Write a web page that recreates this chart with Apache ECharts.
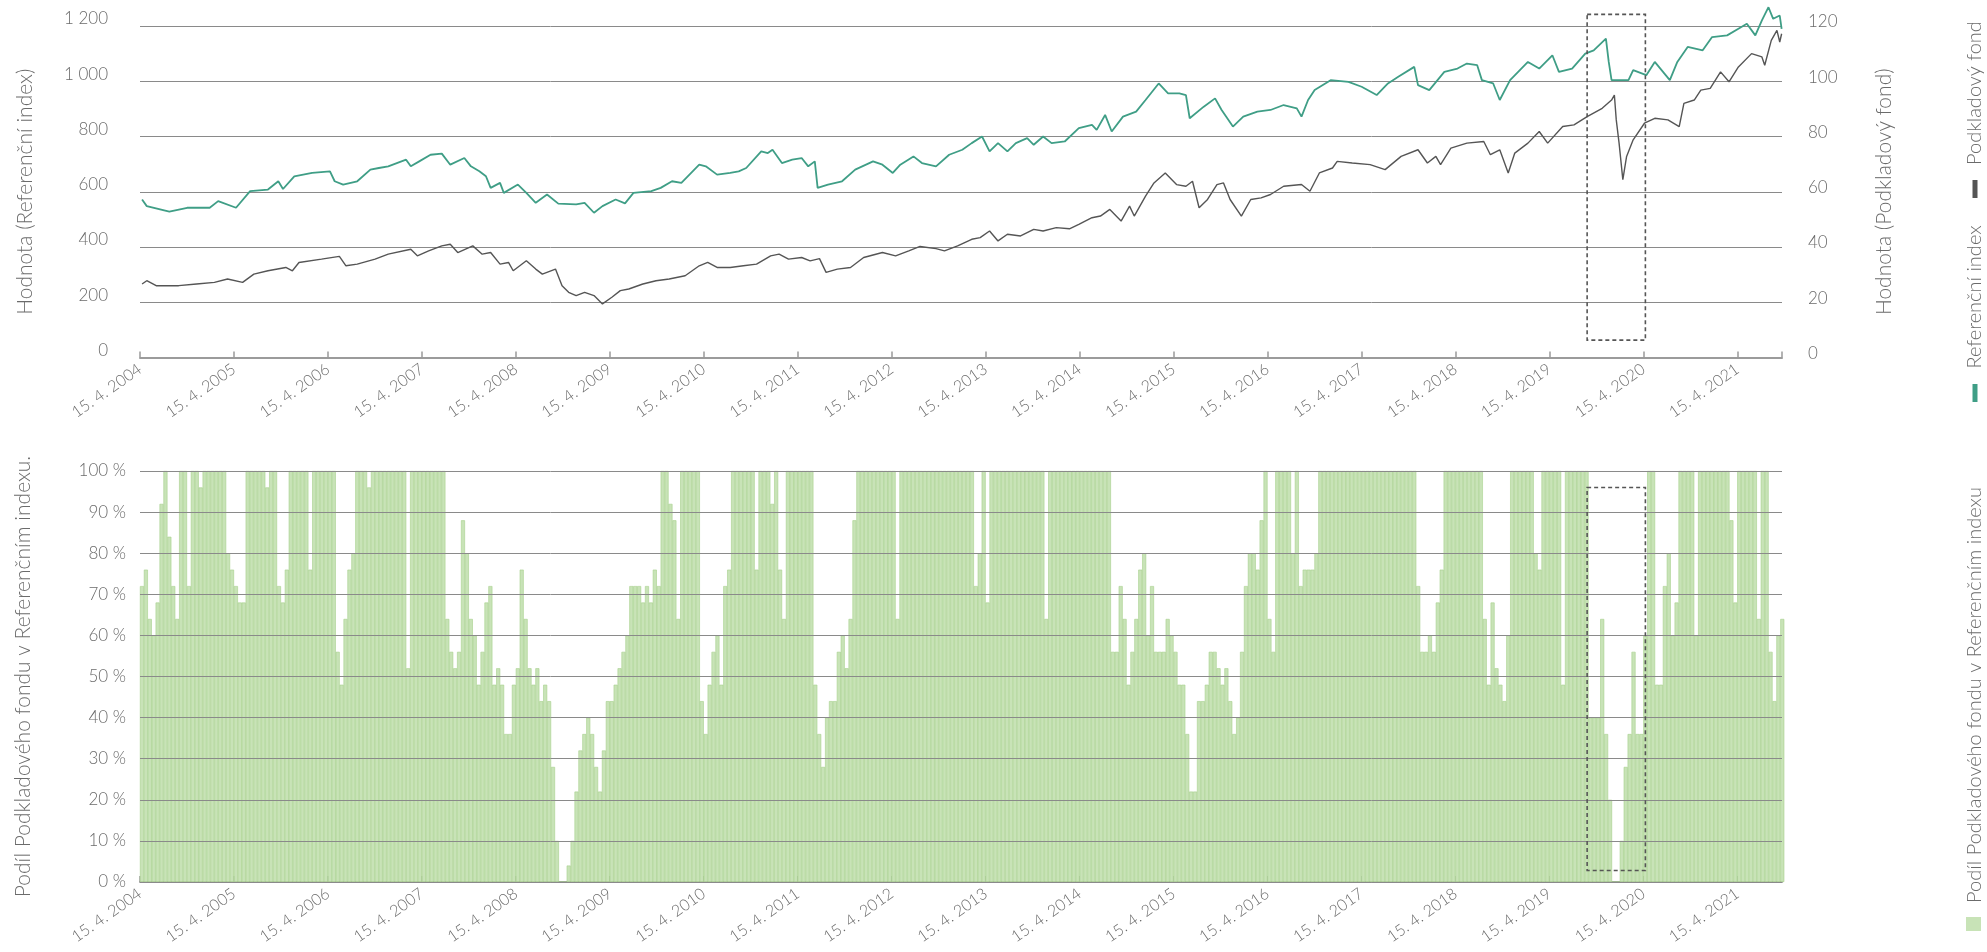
<!DOCTYPE html>
<html lang="cs">
<head>
<meta charset="utf-8">
<title>Referenční index a Podkladový fond</title>
<script src="https://cdn.jsdelivr.net/npm/echarts@6/dist/echarts.min.js"></script>
<style>
  html, body { margin: 0; padding: 0; background: #fff; }
  #chart { width: 1987px; height: 952px; }
</style>
</head>
<body>
<div id="chart"></div>
<script>
// osa x v desetinných letech, první popisek = 15. 4. 2004
const START = 2004.288
const END = 2021.764

const tickLabels = [
  '15. 4. 2004', '15. 4. 2005', '15. 4. 2006', '15. 4. 2007', '15. 4. 2008', '15. 4. 2009',
  '15. 4. 2010', '15. 4. 2011', '15. 4. 2012', '15. 4. 2013', '15. 4. 2014', '15. 4. 2015',
  '15. 4. 2016', '15. 4. 2017', '15. 4. 2018', '15. 4. 2019', '15. 4. 2020', '15. 4. 2021'
]

// Referenční index (levá osa)
const refYears = [
  2004.31, 2004.36, 2004.60, 2004.79,
  2005.03, 2005.12, 2005.31, 2005.46, 2005.65, 2005.76, 2005.81, 2005.93,
  2006.12, 2006.31, 2006.36, 2006.45, 2006.60, 2006.74, 2006.83, 2006.93,
  2007.12, 2007.17, 2007.26, 2007.38, 2007.50, 2007.59, 2007.74, 2007.81, 2007.90, 2007.97,
  2008.02, 2008.12, 2008.16, 2008.31, 2008.40, 2008.50, 2008.62, 2008.74, 2008.93,
  2009.02, 2009.12, 2009.21, 2009.35, 2009.45, 2009.54, 2009.73, 2009.83, 2009.95,
  2010.05, 2010.24, 2010.31, 2010.43, 2010.57, 2010.66, 2010.74, 2010.90, 2010.97,
  2011.02, 2011.12, 2011.23, 2011.33, 2011.40, 2011.47, 2011.50, 2011.61, 2011.76, 2011.90,
  2012.09, 2012.19, 2012.30, 2012.38, 2012.52, 2012.61, 2012.76, 2012.90,
  2013.04, 2013.14, 2013.25, 2013.33, 2013.42, 2013.52, 2013.61, 2013.73, 2013.80, 2013.90, 2013.99,
  2014.13, 2014.28, 2014.42, 2014.47, 2014.56, 2014.63, 2014.75, 2014.89, 2014.99,
  2015.06, 2015.13, 2015.23, 2015.35, 2015.42, 2015.46, 2015.61, 2015.73, 2015.80, 2015.92,
  2016.03, 2016.18, 2016.32, 2016.46, 2016.60, 2016.65, 2016.72, 2016.79, 2016.96,
  2017.15, 2017.29, 2017.45, 2017.57, 2017.68, 2017.85, 2017.89,
  2018.01, 2018.17, 2018.31, 2018.41, 2018.52, 2018.57, 2018.69, 2018.76, 2018.87,
  2019.06, 2019.18, 2019.32, 2019.39, 2019.53, 2019.67, 2019.76, 2019.89, 2019.92, 2019.95,
  2020.13, 2020.18, 2020.32, 2020.41, 2020.57, 2020.65, 2020.76, 2020.92,
  2021.02, 2021.18, 2021.30, 2021.39, 2021.48, 2021.55, 2021.62, 2021.67, 2021.74, 2021.76
]
const refValues = [
  572, 548, 528, 542,
  542, 566, 542, 602, 608, 638, 610, 656,
  668, 674, 638, 626, 638, 680, 686, 692,
  716, 692, 710, 734, 738, 698, 722, 692, 674, 656,
  614, 632, 596, 626, 596, 560, 590, 557, 554,
  560, 524, 548, 572, 558, 596, 602, 614, 638,
  632, 698, 692, 662, 668, 674, 686, 746, 740,
  752, 704, 716, 722, 692, 710, 614, 626, 638, 680,
  710, 698, 668, 698, 728, 704, 692, 734,
  752, 776, 800, 746, 776, 746, 776, 794, 770, 800, 776,
  782, 830, 842, 824, 878, 818, 872, 890, 932,
  962, 992, 956, 956, 950, 866, 908, 938, 896, 836,
  872, 890, 896, 914, 902, 872, 932, 968, 1004,
  998, 980, 950, 992, 1016, 1052, 986,
  968, 1034, 1046, 1064, 1058, 1004, 992, 932, 1004,
  1070, 1046, 1094, 1034, 1046, 1100, 1112, 1154, 1070, 1004,
  1004, 1040, 1022, 1070, 1004, 1070, 1124, 1112,
  1160, 1166, 1190, 1208, 1166, 1220, 1268, 1226, 1238, 1190
]

// Podkladový fond (pravá osa)
const fundYears = [
  2004.31, 2004.36, 2004.46, 2004.70, 2004.89,
  2005.08, 2005.22, 2005.38, 2005.50, 2005.65, 2005.84, 2005.91, 2005.98,
  2006.22, 2006.41, 2006.48, 2006.60, 2006.79, 2006.93,
  2007.17, 2007.24, 2007.36, 2007.50, 2007.59, 2007.67, 2007.83, 2007.93,
  2008.02, 2008.12, 2008.21, 2008.26, 2008.40, 2008.50, 2008.57, 2008.71, 2008.78, 2008.85, 2008.93,
  2009.02, 2009.12, 2009.21, 2009.31, 2009.40, 2009.49, 2009.64, 2009.78, 2009.92,
  2010.09, 2010.24, 2010.33, 2010.43, 2010.57, 2010.71, 2010.85,
  2011.00, 2011.09, 2011.19, 2011.33, 2011.42, 2011.52, 2011.59, 2011.71, 2011.85, 2011.99,
  2012.19, 2012.33, 2012.47, 2012.59, 2012.76, 2012.85, 2012.99,
  2013.14, 2013.23, 2013.33, 2013.42, 2013.52, 2013.66, 2013.80, 2013.90,
  2014.04, 2014.18, 2014.28, 2014.42, 2014.51, 2014.61, 2014.73, 2014.82, 2014.87, 2014.99,
  2015.08, 2015.20, 2015.32, 2015.42, 2015.49, 2015.56, 2015.65, 2015.75, 2015.82, 2015.89,
  2016.01, 2016.11, 2016.22, 2016.32, 2016.46, 2016.65, 2016.74, 2016.84, 2016.98,
  2017.03, 2017.19, 2017.38, 2017.54, 2017.71, 2017.89, 2017.99,
  2018.08, 2018.13, 2018.24, 2018.41, 2018.59, 2018.66, 2018.76, 2018.85, 2018.92,
  2019.06, 2019.18, 2019.27, 2019.43, 2019.55, 2019.69, 2019.85, 2019.95, 2019.98,
  2020.00, 2020.03, 2020.07, 2020.11, 2020.18, 2020.30, 2020.41, 2020.55, 2020.67, 2020.72, 2020.83, 2020.90,
  2021.00, 2021.11, 2021.20, 2021.30, 2021.44, 2021.55, 2021.58, 2021.65, 2021.71, 2021.74, 2021.76
]
const fundValues = [
  26.6, 27.8, 26.0, 26.0, 26.6,
  27.2, 28.4, 27.2, 30.2, 31.4, 32.6, 31.4, 34.4,
  35.6, 36.6, 33.2, 33.8, 35.6, 37.4,
  39.2, 36.8, 38.6, 40.4, 41.0, 38.0, 40.4, 37.4,
  38.0, 33.8, 34.4, 31.4, 35.0, 32.0, 30.2, 32.0, 26.0, 23.6, 22.4,
  23.6, 22.4, 19.4, 21.8, 24.2, 24.8, 26.6, 27.8, 28.4,
  29.6, 33.2, 34.4, 32.6, 32.6, 33.2, 33.8,
  36.8, 37.4, 35.6, 36.2, 35.0, 35.8, 30.8, 32.0, 32.6, 36.2,
  38.0, 36.8, 38.6, 40.2, 39.4, 38.6, 40.4,
  42.8, 43.4, 45.8, 42.2, 44.6, 44.0, 46.4, 45.8,
  47.0, 46.6, 48.2, 50.6, 51.2, 53.6, 49.4, 54.8, 51.2, 58.4,
  63.2, 66.8, 62.6, 62.0, 63.8, 54.2, 57.2, 62.6, 63.2, 57.2,
  51.2, 57.2, 57.8, 59.0, 62.0, 62.6, 60.2, 66.8, 68.6,
  71.0, 70.4, 69.8, 68.0, 72.8, 75.2, 70.4,
  72.8, 69.8, 75.8, 77.6, 78.2, 73.4, 75.2, 66.8, 74.0,
  77.6, 81.8, 77.6, 83.6, 84.2, 87.2, 90.2, 93.2, 95.0,
  86.0, 77.6, 64.4, 72.8, 78.8, 84.8, 86.6, 86.0, 83.6, 92.0, 93.2, 96.8,
  97.4, 103.4, 99.8, 105.2, 110.0, 108.8, 105.8, 114.8, 118.4, 114.2, 117.2
]

// Podíl Podkladového fondu v Referenčním indexu (%), po půlměsících od 15. 4. 2004
const SHARE_STEP = 1 / 24
const shareValues = [
  72, 76, 64, 60, 68, 92, 100, 84, 72, 64,
  100, 100, 72, 100, 100, 96, 100, 100, 100, 100,
  100, 100, 80, 76, 72, 68, 68, 100, 100, 100,
  100, 100, 96, 100, 100, 72, 68, 76, 100, 100,
  100, 100, 100, 76, 100, 100, 100, 100, 100, 100,
  56, 48, 64, 76, 80, 100, 100, 100, 96, 100,
  100, 100, 100, 100, 100, 100, 100, 100, 52, 100,
  100, 100, 100, 100, 100, 100, 100, 100, 64, 56,
  52, 56, 88, 80, 64, 60, 48, 56, 68, 72,
  48, 52, 48, 36, 36, 48, 52, 76, 64, 52,
  48, 52, 44, 48, 44, 28, 10, 0, 0, 4,
  10, 22, 32, 36, 40, 36, 28, 22, 32, 44,
  44, 48, 52, 56, 60, 72, 72, 72, 68, 72,
  68, 76, 72, 100, 100, 92, 88, 64, 100, 100,
  100, 100, 100, 44, 36, 48, 56, 60, 48, 72,
  76, 100, 100, 100, 100, 100, 100, 76, 100, 100,
  100, 92, 100, 76, 64, 100, 100, 100, 100, 100,
  100, 100, 48, 36, 28, 40, 44, 44, 56, 60,
  52, 64, 88, 100, 100, 100, 100, 100, 100, 100,
  100, 100, 100, 64, 100, 100, 100, 100, 100, 100,
  100, 100, 100, 100, 100, 100, 100, 100, 100, 100,
  100, 100, 100, 72, 80, 100, 68, 100, 100, 100,
  100, 100, 100, 100, 100, 100, 100, 100, 100, 100,
  100, 64, 100, 100, 100, 100, 100, 100, 100, 100,
  100, 100, 100, 100, 100, 100, 100, 100, 56, 56,
  72, 64, 48, 56, 64, 76, 80, 60, 72, 56,
  56, 56, 64, 60, 56, 48, 48, 36, 22, 22,
  44, 44, 48, 56, 56, 52, 48, 52, 44, 36,
  40, 56, 72, 80, 80, 76, 88, 100, 64, 56,
  100, 100, 100, 100, 80, 100, 72, 76, 76, 76,
  80, 100, 100, 100, 100, 100, 100, 100, 100, 100,
  100, 100, 100, 100, 100, 100, 100, 100, 100, 100,
  100, 100, 100, 100, 100, 100, 72, 56, 56, 60,
  56, 68, 76, 100, 100, 100, 100, 100, 100, 100,
  100, 100, 100, 64, 48, 68, 52, 48, 44, 60,
  100, 100, 100, 100, 100, 100, 80, 76, 100, 100,
  100, 100, 100, 48, 100, 100, 100, 100, 100, 100,
  40, 40, 40, 64, 36, 20, 0, 0, 10, 28,
  36, 56, 36, 36, 60, 100, 100, 48, 48, 72,
  80, 60, 68, 100, 100, 100, 100, 60, 100, 100,
  100, 100, 100, 100, 100, 100, 88, 68, 100, 100,
  100, 100, 100, 64, 100, 100, 56, 44, 60, 64
]

// zvýrazněné období (přerušovaný rámeček)
const highlightYears = [2019.69, 2020.31]

const FONT = 'Lato, "Open Sans", sans-serif'
const TXT = '#6b6b6b'
const GREEN = '#3f9e86'
const GREY = '#555555'
const BAR = '#c8e3b7'
const NBSP = '\u00a0'

const toX = y => y - START

const dateAxis = gridIndex => ({
  type: 'value',
  gridIndex: gridIndex,
  min: 0,
  max: END - START,
  interval: 1,
  axisLine: { lineStyle: { color: '#9b9b9b', width: 2 } },
  axisTick: { inside: true, length: 6, lineStyle: { color: '#9b9b9b', width: 1.5 } },
  splitLine: { show: false },
  axisLabel: {
    rotate: 35,
    margin: 10,
    color: TXT,
    fontFamily: FONT,
    fontWeight: 300,
    fontSize: 16,
    formatter: v => {
      const k = Math.round(v)
      return Math.abs(v - k) < 1e-6 && tickLabels[k] ? tickLabels[k] : ''
    }
  }
})

const nameStyle = { fontSize: 21, color: TXT, fontFamily: FONT, fontWeight: 300 }
const gridLine = { lineStyle: { color: '#8a8a8a', width: 1 } }

const chart = echarts.init(document.getElementById('chart'))

const option = {
  backgroundColor: '#fff',
  animation: false,
  grid: [
    { left: 140, right: 205, top: 26, height: 331.5 },
    { left: 140, right: 205, top: 471, height: 411 }
  ],
  xAxis: [dateAxis(0), dateAxis(1)],
  yAxis: [
    {
      type: 'value', gridIndex: 0, position: 'left',
      min: 0, max: 1200, interval: 200,
      name: 'Hodnota (Referenční index)', nameLocation: 'middle', nameRotate: 90, nameGap: 104,
      nameTextStyle: nameStyle,
      axisLine: { show: false }, axisTick: { show: false },
      axisLabel: {
        margin: 32, color: TXT, fontFamily: FONT, fontWeight: 300, fontSize: 17,
        verticalAlign: 'bottom', lineHeight: 14,
        formatter: v => v >= 1000 ? Math.floor(v / 1000) + NBSP + String(v % 1000).padStart(3, '0') : String(v)
      },
      splitLine: gridLine
    },
    {
      type: 'value', gridIndex: 0, position: 'right',
      min: 0, max: 120, interval: 20,
      name: 'Hodnota (Podkladový fond)', nameLocation: 'middle', nameRotate: 90, nameGap: 92,
      nameTextStyle: nameStyle,
      axisLine: { show: false }, axisTick: { show: false },
      axisLabel: {
        margin: 26, color: TXT, fontFamily: FONT, fontWeight: 300, fontSize: 17,
        verticalAlign: 'bottom', lineHeight: 8
      },
      splitLine: { show: false }
    },
    {
      type: 'value', gridIndex: 1, position: 'left', z: 3,
      min: 0, max: 100, interval: 10,
      name: 'Podíl Podkladového fondu v Referenčním indexu.', nameLocation: 'middle', nameRotate: 90, nameGap: 106,
      nameTextStyle: nameStyle,
      axisLine: { show: false }, axisTick: { show: false },
      axisLabel: {
        margin: 14, color: TXT, fontFamily: FONT, fontWeight: 300, fontSize: 17,
        formatter: v => v + NBSP + '%'
      },
      splitLine: gridLine
    }
  ],
  series: [
    {
      name: 'Referenční index',
      type: 'line',
      xAxisIndex: 0, yAxisIndex: 0,
      data: refYears.map((y, i) => [toX(y), refValues[i]]),
      showSymbol: false, symbol: 'none', clip: false, z: 3,
      lineStyle: { color: GREEN, width: 1.8 }
    },
    {
      name: 'Podkladový fond',
      type: 'line',
      xAxisIndex: 0, yAxisIndex: 1,
      data: fundYears.map((y, i) => [toX(y), fundValues[i]]),
      showSymbol: false, symbol: 'none', z: 3,
      lineStyle: { color: GREY, width: 1.4 }
    },
    {
      name: 'Podíl Podkladového fondu v Referenčním indexu',
      type: 'bar',
      xAxisIndex: 1, yAxisIndex: 2,
      data: shareValues.map((v, i) => [(i + 0.5) * SHARE_STEP, v]),
      barWidth: 4,
      itemStyle: { color: BAR, borderColor: '#a6d08c', borderWidth: 0.6 }
    }
  ]
}

chart.setOption(option)

// přerušované rámečky a svislá legenda
const px = (xi, yi, x, y) => chart.convertToPixel({ xAxisIndex: xi, yAxisIndex: yi }, [x, y])
const dashRect = (a, b) => ({
  type: 'rect', z: 100, silent: true,
  shape: { x: a[0], y: a[1], width: b[0] - a[0], height: b[1] - a[1] },
  style: { fill: 'none', stroke: '#555', lineWidth: 1.6, lineDash: [4, 3] }
})
const vText = (text, x, y) => ({
  type: 'text', x: x, y: y, rotation: Math.PI / 2, z: 100,
  style: {
    text: text, fill: TXT, font: '300 20px ' + FONT,
    align: 'center', verticalAlign: 'middle', textAlign: 'center', textVerticalAlign: 'middle'
  }
})

chart.setOption({
  graphic: [
    dashRect(px(0, 0, toX(highlightYears[0]), 1242), px(0, 0, toX(highlightYears[1]), 63)),
    dashRect(px(1, 2, toX(highlightYears[0]), 96), px(1, 2, toX(highlightYears[1]), 2.8)),
    vText('Podkladový fond', 1975, 93),
    { type: 'rect', shape: { x: 1972.5, y: 180, width: 5, height: 18 }, style: { fill: GREY } },
    vText('Referenční index', 1975, 297),
    { type: 'rect', shape: { x: 1972.5, y: 384, width: 5, height: 18 }, style: { fill: GREEN } },
    vText('Podíl Podkladového fondu v Referenčním indexu', 1975, 695),
    { type: 'rect', shape: { x: 1966, y: 917, width: 15, height: 14 }, style: { fill: BAR } }
  ]
})
</script>
</body>
</html>
